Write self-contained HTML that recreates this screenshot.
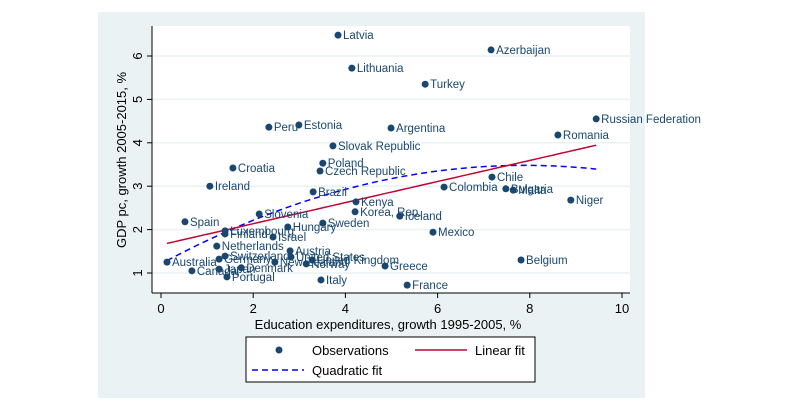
<!DOCTYPE html>
<html><head><meta charset="utf-8"><style>
body{margin:0;background:#fff;width:791px;height:405px;overflow:hidden}
svg{display:block;font-family:"Liberation Sans",Arial,sans-serif}
.lbl{font-size:11.5px;fill:#1a476f}
</style></head><body>
<svg id="chart" width="791" height="405">
<rect x="98" y="12" width="547" height="386" fill="#eaf2f3"/>
<rect x="152" y="26" width="478" height="267" fill="#fff"/>
<g id="grid"></g>
<g id="fits"></g>
<g id="pts"></g>
<line x1="152" y1="26" x2="152" y2="293" stroke="#000" stroke-width="1"/>
<line x1="152" y1="293" x2="630" y2="293" stroke="#000" stroke-width="1"/>
<g id="axes"></g>
<text x="388" y="329" font-size="13" text-anchor="middle">Education expenditures, growth 1995-2005, %</text>
<text transform="translate(126,160) rotate(-90)" font-size="13" text-anchor="middle">GDP pc, growth 2005-2015, %</text>
<g>
<rect x="246" y="337" width="289" height="45" fill="#fff" stroke="#000" stroke-width="1"/>
<circle cx="279" cy="350" r="3.5" fill="#1a476f"/>
<text x="312" y="355" font-size="13">Observations</text>
<line x1="415" y1="350" x2="467" y2="350" stroke="#c10534" stroke-width="1.5"/>
<text x="475" y="355" font-size="13">Linear fit</text>
<line x1="252" y1="370" x2="304" y2="370" stroke="#0000ff" stroke-width="1.5" stroke-dasharray="6,4"/>
<text x="312" y="375" font-size="13">Quadratic fit</text>
</g>
</svg>
<script>
const countries=["Latvia","Azerbaijan","Lithuania","Turkey","Russian Federation","Romania","Peru","Estonia","Argentina","Slovak Republic","Poland","Croatia","Czech Republic","Ireland","Brazil","Colombia","Chile","Bulgaria","Malta","Niger","Kenya","Korea, Rep.","Iceland","Slovenia","Spain","Sweden","Luxembourg","Finland","Hungary","Israel","Mexico","Netherlands","Austria","Switzerland","Germany","United States","New Zealand","United Kingdom","Norway","Australia","Canada","Japan","Denmark","Portugal","Italy","Greece","France","Belgium"];
const eduGrowth=[3.84,7.16,4.14,5.73,9.44,8.61,2.34,2.99,4.99,3.73,3.51,1.56,3.45,1.06,3.30,6.14,7.18,7.48,7.64,8.89,4.23,4.21,5.18,2.13,0.52,3.51,1.39,1.39,2.75,2.43,5.90,1.21,2.80,1.39,1.26,2.82,2.47,3.28,3.15,0.13,0.67,1.26,1.74,1.43,3.47,4.86,5.34,7.81];
const gdpGrowth=[6.48,6.14,5.72,5.35,4.55,4.18,4.36,4.41,4.34,3.93,3.53,3.42,3.35,3.00,2.87,2.98,3.21,2.94,2.91,2.68,2.64,2.41,2.31,2.36,2.18,2.15,1.97,1.90,2.06,1.83,1.94,1.62,1.51,1.39,1.32,1.37,1.25,1.30,1.21,1.25,1.05,1.09,1.12,0.91,0.84,1.16,0.72,1.30];
const xTicks=[0,2,4,6,8,10];
const yTicks=[1,2,3,4,5,6];
const linearCoef=[1.65,0.243];
const quadCoef=[1.21,0.575,-0.0364];
const xRange=[0.13,9.44];

const NS="http://www.w3.org/2000/svg";
const X=v=>161+v*46.1;
const Y=v=>273-(v-1)*43.4;
function mk(tag,attrs,parent){const e=document.createElementNS(NS,tag);for(const k in attrs)e.setAttribute(k,attrs[k]);parent.appendChild(e);return e;}
const grid=document.getElementById('grid'),axes=document.getElementById('axes'),fits=document.getElementById('fits'),pts=document.getElementById('pts');
yTicks.forEach(t=>{
  const g=mk('line',{x1:152,x2:630,y1:Y(t),y2:Y(t),stroke:'#eaf2f3','stroke-width':1.5},grid);
  
  
  const tk=mk('line',{x1:147,x2:152,y1:Y(t),y2:Y(t),stroke:'#000'},axes);
  
  
  const tx=mk('text',{transform:`translate(142,${Y(t)}) rotate(-90)`,'font-size':13,'text-anchor':'middle'},axes);
  tx.textContent=t;
  
  
});
xTicks.forEach(t=>{
  const tk=mk('line',{x1:X(t),x2:X(t),y1:293,y2:298,stroke:'#000'},axes);
  
  
  const tx=mk('text',{x:X(t),y:313,'font-size':13,'text-anchor':'middle'},axes);
  tx.textContent=t;
  
  
});
function curve(coef){let d='';for(let i=0;i<=60;i++){const x=xRange[0]+(xRange[1]-xRange[0])*i/60;let y=0;coef.forEach((c,k)=>y+=c*Math.pow(x,k));d+=(i?'L':'M')+X(x).toFixed(1)+','+Y(y).toFixed(1);}return d;}
const q=mk('path',{d:curve(quadCoef),fill:'none',stroke:'#0000ff','stroke-width':1.5,'stroke-dasharray':'6,4'},fits);


const l=mk('path',{d:curve(linearCoef),fill:'none',stroke:'#c10534','stroke-width':1.5},fits);


countries.forEach((c,i)=>{
  const cx=X(eduGrowth[i]),cy=Y(gdpGrowth[i]);
  const p=mk('circle',{cx:cx,cy:cy,r:3.5,fill:'#1a476f'},pts);
  
  
  const t=mk('text',{x:cx+5,y:cy+4,class:'lbl'},pts);
  t.textContent=c;
  
  
});
</script>
</body></html>
